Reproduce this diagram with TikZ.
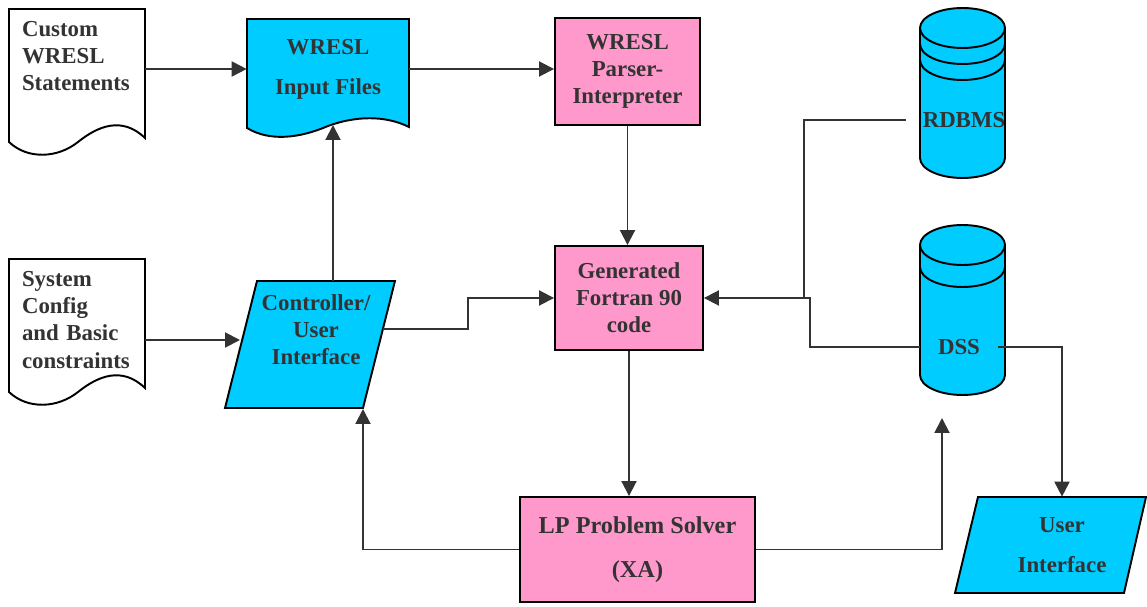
\documentclass[tikz,border=0pt]{standalone}
\usepackage{fontspec}
\setmainfont{Liberation Serif}
\usetikzlibrary{arrows.meta,positioning,calc}
\definecolor{wcyan}{HTML}{00CCFF}
\definecolor{wpink}{HTML}{FF99CC}
\definecolor{inkgray}{HTML}{333333}
\tikzset{
  >={Triangle[length=3mm,width=3mm]},
  % shapes
  outl/.style={draw=black,line width=1.1pt},
  lbl/.style={font=\fontsize{13}{15.4}\selectfont\bfseries,text=inkgray,
              align=center,inner sep=0pt},
  doctxt/.style={lbl,align=left,text width=2.2cm,inner xsep=0.26cm},
  pbox/.style={rectangle,outl,fill=wpink,lbl},
  % links
  link/.style={draw=inkgray,line width=1.1pt},
}
\begin{document}
\begin{tikzpicture}[x=0.02cm,y=-0.02cm]
\useasboundingbox (0,0) rectangle (1147,607);
  % documents
  \filldraw[outl,fill=white] (9,9) -- (145,9) -- (145,138)
    .. controls (122,116) and (98,126) .. (78,142)
    .. controls (58,158) and (28,160) .. (9,142) -- cycle;
  \filldraw[outl,fill=white] (9,259) -- (145,259) -- (145,388)
    .. controls (122,366) and (98,376) .. (78,392)
    .. controls (58,408) and (28,410) .. (9,392) -- cycle;
  \filldraw[outl,fill=wcyan] (247,19) -- (409,19) -- (409,127)
    .. controls (385,115) and (355,116) .. (328,126)
    .. controls (300,138) and (270,142) .. (247,128) -- cycle;
  % parallelograms
  \filldraw[outl,fill=wcyan] (225,408) -- (363,408) -- (395,281) -- (257,281) -- cycle;
  \filldraw[outl,fill=wcyan] (955,593) -- (1124,593) -- (1146,497) -- (978,497) -- cycle;
  % databases
  \filldraw[outl,fill=wcyan] (920,28) -- (920,158)
    arc[start angle=180,end angle=360,x radius=0.85cm,y radius=0.4cm] -- (1005,28)
    arc[start angle=0,end angle=180,x radius=0.85cm,y radius=0.4cm] -- cycle;
  \foreach \yy in {28,44,60}
    \draw[outl] (920,\yy) arc[start angle=180,end angle=360,x radius=0.85cm,y radius=0.4cm];
  \filldraw[outl,fill=wcyan] (920,245) -- (920,375)
    arc[start angle=180,end angle=360,x radius=0.85cm,y radius=0.4cm] -- (1005,245)
    arc[start angle=0,end angle=180,x radius=0.85cm,y radius=0.4cm] -- cycle;
  \foreach \yy in {245,267}
    \draw[outl] (920,\yy) arc[start angle=180,end angle=360,x radius=0.85cm,y radius=0.4cm];

  % nodes
  \node[doctxt] (custom) at (77,56) {Custom\\WRESL\\Statements};
  \node[doctxt] (sysdoc) at (77,320) {System\\Config\\and Basic\\constraints};
  \node[lbl,minimum width=3.24cm] (input) at (328,69) {WRESL\\[0.26cm]Input Files};
  \node[pbox,minimum width=2.9cm,minimum height=2.14cm] (parser) at (627.5,71.5)
    {WRESL\\Parser-\\Interpreter};
  \node[pbox,minimum width=2.96cm,minimum height=2.08cm] (fortran) at (629,298)
    {Generated\\Fortran 90\\code};
  \node[pbox,minimum width=4.7cm,minimum height=2.1cm,
        font=\fontsize{13.8}{16.5}\selectfont\bfseries] (lp) at (637.5,549.5)
    {LP Problem Solver\\[0.3cm](XA)};
  \node[lbl] (ctrl) at (316,330) {Controller/\\User\\Interface};
  \node[lbl,minimum height=1.92cm] (ui) at (1062,545) {User\\[0.26cm]Interface};
  \node[lbl,inner xsep=0.32cm] (rdbms) at (964,120) {RDBMS};
  \node[lbl,minimum width=1.56cm] (dss) at (959,347) {DSS};
  \coordinate (ctrl-top) at (333,281);
  \coordinate (ctrl-in) at (240,340);
  \coordinate (ctrl-out) at (383,329);
  \coordinate (ctrl-low) at (363,409);
  \coordinate (input-low) at (333,125);
  \coordinate (dss-low) at (942,418);

  % links
  \draw[link,->] (input.west -| custom.east) -- (input.west);
  \draw[link,->] (input.east) -- (input.east -| parser.west);
  \draw[link,->] (parser.south) -- (parser.south |- fortran.north);
  \draw[link,->] (sysdoc.east |- ctrl-in) -- (ctrl-in);
  \draw[link,->] (ctrl-top) -- (input-low);
  \draw[link,->] (ctrl-out) -- ++(85,0) |- (fortran.west);
  \draw[link,->] (rdbms.west) -- ++(-102,0) |- (fortran.east);
  \draw[link] (dss.west) -- ++(-110,0) -- ++(0,-49) -- ++(-5,0);
  \draw[link,->] (dss.east) -| (ui.north);
  \draw[link,->] (fortran.south) -- (fortran.south |- lp.north);
  \draw[link,->] (lp.west) -| (ctrl-low);
  \draw[link,->] (lp.east) -| (dss-low);
\end{tikzpicture}
\end{document}
